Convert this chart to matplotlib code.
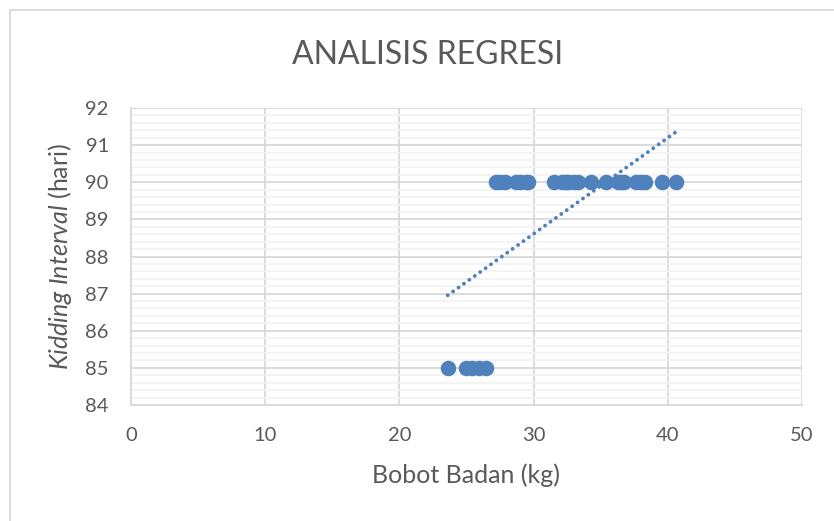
import matplotlib
matplotlib.use("Agg")
import matplotlib.pyplot as plt
import numpy as np
from matplotlib.ticker import MultipleLocator
from matplotlib.patches import Rectangle

# Data
bobot_85 = [23.6, 24.95, 25.4, 25.9, 26.45]
bobot_90 = [27.2, 27.5, 27.9, 28.7, 29.0, 29.4, 29.6, 31.5, 32.1, 32.4, 32.6,
            33.0, 33.3, 34.3, 35.4, 36.3, 36.5, 36.7, 37.6, 38.0, 38.3, 39.6, 40.6]
kidding_85 = [85] * len(bobot_85)
kidding_90 = [90] * len(bobot_90)

x_vals = np.array(bobot_85 + bobot_90)
y_vals = np.array(kidding_85 + kidding_90)

title = "ANALISIS REGRESI"
xlabel = "Bobot Badan (kg)"
ylabel = r"$\mathit{Kidding\ Interval}$ (hari)"

plt.rcParams['font.family'] = ['Lato', 'DejaVu Sans']
plt.rcParams['mathtext.fontset'] = 'custom'
plt.rcParams['mathtext.rm'] = 'Lato'
plt.rcParams['mathtext.it'] = 'Lato:italic'

text_color = '#595959'
blue = '#4F81BD'

fig = plt.figure(figsize=(8.34, 5.21), dpi=100)
ax = fig.add_axes([131/834, 1 - 405/521, (802 - 131)/834, (405 - 108)/521])

# chart-area border
fig.patches.append(Rectangle((10/834, -0.05), 1.0, 1 - 10/521 + 0.05,
                             transform=fig.transFigure, fill=False,
                             edgecolor='#D9D9D9', linewidth=1.3, zorder=0))

ax.scatter(x_vals, y_vals, s=125, color=blue, zorder=3, linewidths=0)

# linear trendline
coef = np.polyfit(x_vals, y_vals, 1)
xt = np.array([x_vals.min(), x_vals.max()])
ax.plot(xt, np.polyval(coef, xt), color=blue, linewidth=2.8,
        linestyle=(0, (0.01, 1.7)), dash_capstyle='round', zorder=4)

ax.set_xlim(0, 50)
ax.set_ylim(84, 92)
ax.xaxis.set_major_locator(MultipleLocator(10))
ax.yaxis.set_major_locator(MultipleLocator(1))
ax.yaxis.set_minor_locator(MultipleLocator(0.2))

ax.grid(which='major', color='#D9D9D9', linewidth=1.3, zorder=1)
ax.grid(which='minor', axis='y', color='#F2F2F2', linewidth=1.3, zorder=0)
ax.set_axisbelow(True)

for s in ['top', 'right']:
    ax.spines[s].set_visible(False)
for s in ['left', 'bottom']:
    ax.spines[s].set_color('#D9D9D9')
    ax.spines[s].set_linewidth(1.3)

ax.tick_params(which='both', length=0, labelsize=14.5, labelcolor=text_color)
ax.tick_params(axis='y', pad=16)
ax.tick_params(axis='x', pad=16)

ax.set_xlabel(xlabel, fontsize=18, color=text_color, labelpad=14)
ax.set_ylabel(ylabel, fontsize=18, color=text_color, labelpad=8)
fig.text(428/834, 1 - 55/521, title, fontsize=23, color=text_color,
         ha='center', va='center')

fig.savefig("out.png", dpi=100)
